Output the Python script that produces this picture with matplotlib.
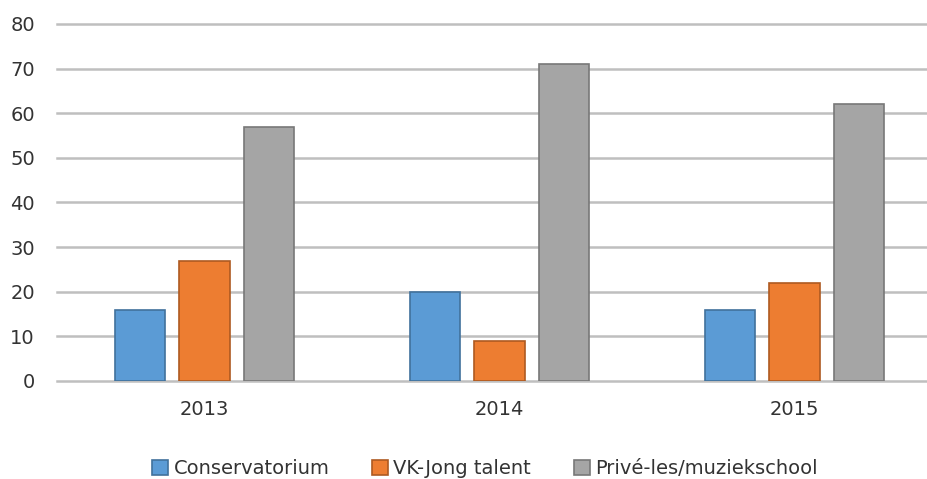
import matplotlib.pyplot as plt
import numpy as np

# data
years = ['2013', '2014', '2015']
series = ['Conservatorium', 'VK-Jong talent', 'Privé-les/muziekschool']
conservatorium = [16, 20, 16]
vk_jong = [27, 9, 22]
prive = [57, 71, 62]

colors = ['#5B9BD5', '#ED7D31', '#A5A5A5']
edges = ['#41719C', '#AE5A21', '#787878']

plt.rcParams['font.family'] = ['DejaVu Sans']

fig = plt.figure(figsize=(9.28, 4.79), dpi=100)
ax = fig.add_axes([57/928, (479-381)/479, 885/928, 357/479])

x = np.arange(len(years))
w = 0.17
step = 0.22
for k, vals in enumerate([conservatorium, vk_jong, prive]):
    ax.bar(x + (k-1)*step, vals, w, color=colors[k], edgecolor=edges[k],
           linewidth=1.2, label=series[k], zorder=3)

ax.set_xlim(-0.5, 2.5)
ax.set_ylim(0, 80)
ax.set_yticks(range(0, 81, 10))
ax.set_xticks(x)
ax.set_xticklabels(years)
ax.grid(axis='y', color='#BFBFBF', linewidth=1.8, zorder=0)
for gl in ax.get_ygridlines():
    gl.set_clip_on(False)
ax.tick_params(length=0, labelsize=14, colors='#333333')
ax.tick_params(axis='y', pad=16)
ax.tick_params(axis='x', pad=14)
for s in ax.spines.values():
    s.set_visible(False)

fig.legend(loc='center', bbox_to_anchor=(485/928, 1-469/479), ncol=3,
           frameon=False, fontsize=14, handlelength=0.8, handleheight=0.8,
           handletextpad=0.3, columnspacing=2.2, labelcolor='#333333')

fig.savefig('out.png', dpi=100)
